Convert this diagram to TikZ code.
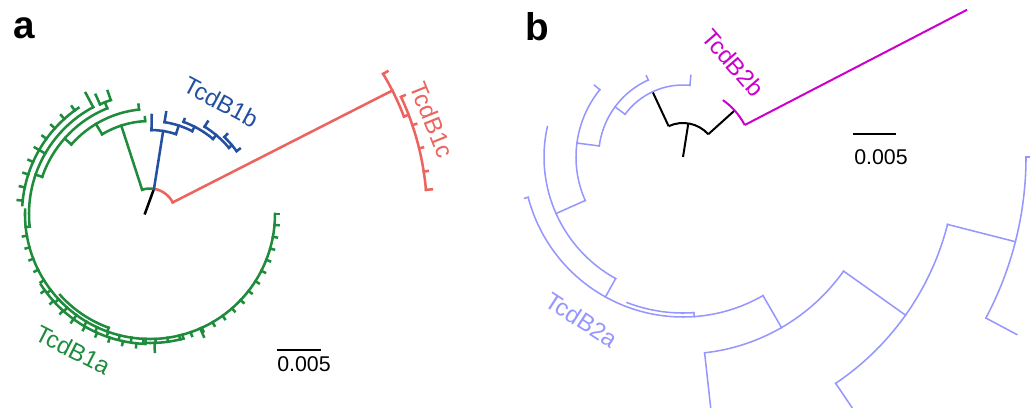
\documentclass[tikz,border=0pt]{standalone}
\usepackage{fontspec}
\setmainfont{Liberation Sans}
\definecolor{cladeA}{RGB}{30,140,60}
\definecolor{cladeB}{RGB}{35,80,160}
\definecolor{cladeC}{RGB}{235,100,95}
\definecolor{lav}{RGB}{150,150,255}
\definecolor{mag}{RGB}{204,0,204}
% radial branch: angle, inner radius, outer radius
\newcommand\tbranch[4][]{\draw[#1] (#2:#3) -- (#2:#4);}
% clade arc: radius, start angle, end angle
\newcommand\tarc[4][]{\draw[#1] (#3:#2) arc[start angle=#3, end angle=#4, radius=#2];}
\tikzset{
  thick a/.style={line width=1.9pt, line cap=rect},
  thin b/.style={line width=1.15pt, line cap=rect},
  lbl/.style={inner sep=0pt, font=\fontsize{18}{20}\selectfont},
  scale lbl/.style={inner sep=0pt, font=\fontsize{16}{18}\selectfont},
  panel/.style={inner sep=0pt, font=\bfseries\fontsize{29}{31}\selectfont}
}
\begin{document}
\begin{tikzpicture}[x=0.75pt,y=0.75pt]
\useasboundingbox (0,0) rectangle (1030,407);

% ---------------- panel a: TcdB1 tree ----------------
\begin{scope}[shift={(150,193)}]
  \coordinate (aroot) at (0,0);
  % root edge and root arc
  \draw[thick a, black] (172:5) -- (81:25.5);
  \tarc[thick a, cladeA]{25.5}{108}{81}
  \tarc[thick a, cladeC]{25.5}{81}{27}
  % TcdB1c
  \tbranch[thick a, cladeC]{27}{25.5}{272}
  \tarc[thick a, cladeC]{272}{21}{31}
  \tbranch[thick a, cladeC]{31}{272}{277}
  \tbranch[thick a, cladeC]{21}{272}{277}
  \tarc[thick a, cladeC]{277}{5}{25}
  \tbranch[thick a, cladeC]{25}{277}{281}
  \foreach \t in {18.7,13.7,8.8} {\tbranch[thick a, cladeC]{\t}{277}{281}}
  \tbranch[thick a, cladeC]{5}{277}{283}
  % TcdB1b
  \tbranch[thick a, cladeB]{81}{25.5}{84}
  \tarc[thick a, cladeB]{84}{72}{89}
  \tbranch[thick a, cladeB]{89}{84}{99}
  \tbranch[thick a, cladeB]{72}{84}{93}
  \tarc[thick a, cladeB]{93}{63}{81}
  \tbranch[thick a, cladeB]{81}{93}{103}
  \tbranch[thick a, cladeB]{63}{93}{98}
  \tarc[thick a, cladeB]{98}{50}{70}
  \tbranch[thick a, cladeB]{70}{98}{101}
  \tbranch[thick a, cladeB]{50}{98}{103}
  \tarc[thick a, cladeB]{103}{40}{58}
  \tbranch[thick a, cladeB]{58}{103}{109}
  \tbranch[thick a, cladeB]{40}{103}{107}
  \tarc[thick a, cladeB]{107}{36}{46}
  \tbranch[thick a, cladeB]{46}{107}{111}
  \tbranch[thick a, cladeB]{36}{107}{111}
  % TcdB1a
  \tbranch[thick a, cladeA]{108}{25.5}{93}
  \tarc[thick a, cladeA]{93}{93}{121}
  \tbranch[thick a, cladeA]{93}{93}{97}
  \tbranch[thick a, cladeA]{121}{93}{105}
  \tarc[thick a, cladeA]{105}{96}{138.5}
  \tbranch[thick a, cladeA]{96}{105}{110}
  \tbranch[thick a, cladeA]{138.5}{105}{114}
  \tarc[thick a, cladeA]{114}{112}{161}
  \tbranch[thick a, cladeA]{112}{114}{120.5}
  \tarc[thick a, cladeA]{120.5}{109}{114.5}
  \tbranch[thick a, cladeA]{109}{120.5}{130}
  \tbranch[thick a, cladeA]{114.5}{120.5}{131}
  \tbranch[thick a, cladeA]{161}{114}{121}
  \tarc[thick a, cladeA]{121}{118}{186}
  \tbranch[thick a, cladeA]{118}{121}{137}
  \tbranch[thick a, cladeA]{150}{121}{128}
  \tarc[thick a, cladeA]{128}{124}{176}
  \foreach \t in {126,132,...,174} {\tbranch[thick a, cladeA]{\t}{128}{133}}
  \tbranch[thick a, cladeA]{186}{121}{125}
  \tarc[thick a, cladeA]{125}{178}{360}
  \foreach \t in {190,195.5,...,358} {\tbranch[thick a, cladeA]{\t}{125}{129}}
  \tbranch[thick a, cladeA]{360}{125}{129}
  % nested sub-clades along the bottom
  \tarc[thick a, cladeA]{121}{222}{250}
  \tbranch[thick a, cladeA]{250}{121}{125}
  \tarc[thick a, cladeA]{130}{213}{268}
  \tbranch[thick a, cladeA]{268}{125}{130}
  \foreach \t in {216,222,...,264} {\tbranch[thick a, cladeA]{\t}{130}{134}}
  \tarc[thick a, cladeA]{129}{268}{285}
  \tbranch[thick a, cladeA]{285}{125}{129}
  \tbranch[thick a, cladeA]{272}{129}{138}
  \tbranch[thick a, cladeA]{293.7}{125}{134}
\end{scope}
\node[lbl, text=cladeB, rotate=-28] (lab1b) at (221,305) {TcdB1b};
\node[lbl, text=cladeC, rotate=-68] (lab1c) at (432,287) {TcdB1c};
\node[lbl, text=cladeA, rotate=-27] (lab1a) at (73,57) {TcdB1a};
\coordinate (sa1) at (277,57);
\coordinate (sa2) at (321,57);
\draw[line width=1.9pt] (sa1) -- (sa2);
\node[scale lbl] (sla) at (304,42.5) {0.005};
\node[panel] (pa) at (24,379) {a};

% ---------------- panel b: TcdB2 tree ----------------
\begin{scope}[shift={(683,250)}]
  \coordinate (broot) at (0,0);
  \draw[line width=1.5pt, black] (broot) -- (81:34);
  \tarc[line width=1.5pt, black]{34}{42}{115}
  \tbranch[line width=1.5pt, black]{115}{34}{72}
  \tbranch[line width=1.5pt, black]{42}{34}{69.5}
  % TcdB2b
  \tarc[line width=1.5pt, mag]{69.5}{27.4}{55}
  \tbranch[line width=1.5pt, mag]{27.4}{69.5}{320}
  % TcdB2a
  \tarc[thin b, lav]{72}{84.5}{143.6}
  \tbranch[thin b, lav]{84.5}{72}{82}
  \tbranch[thin b, lav]{143.6}{72}{84.5}
  \tarc[thin b, lav]{84.5}{114.3}{172.5}
  \tbranch[thin b, lav]{114.3}{84.5}{89}
  \tbranch[thin b, lav]{172.5}{84.5}{107}
  \tarc[thin b, lav]{107}{141}{204}
  \tbranch[thin b, lav]{141}{107}{114}
  \tbranch[thin b, lav]{204}{107}{139}
  \tarc[thin b, lav]{139}{167.4}{241}
  \tbranch[thin b, lav]{241}{139}{160}
  \tarc[thin b, lav]{160}{194.6}{300}
  \tbranch[thin b, lav]{194.6}{160}{163.5}
  \tarc[thin b, lav]{156}{249}{274}
  \tbranch[thin b, lav]{274}{156}{160}
  \tbranch[thin b, lav]{300}{160}{197}
  \tarc[thin b, lav]{197}{276.3}{324.6}
  \tbranch[thin b, lav]{276.3}{197}{262}
  \tbranch[thin b, lav]{324.6}{197}{273}
  \tarc[thin b, lav]{273}{304}{345.7}
  \tbranch[thin b, lav]{304}{273}{320}
  \tbranch[thin b, lav]{345.7}{273}{343}
  \tarc[thin b, lav]{343}{332}{360}
  \tbranch[thin b, lav]{332}{343}{378}
  \tbranch[thin b, lav]{0}{343}{400}
\end{scope}
\node[lbl, text=mag, rotate=-49] (lab2b) at (733,344) {TcdB2b};
\node[lbl, text=lav, rotate=-33] (lab2a) at (582,87) {TcdB2a};
\coordinate (sb1) at (853,273);
\coordinate (sb2) at (896,273);
\draw[line width=1.5pt] (sb1) -- (sb2);
\node[scale lbl] (slb) at (881,250) {0.005};
\node[panel] (pb) at (537,380) {b};
\end{tikzpicture}
\end{document}
